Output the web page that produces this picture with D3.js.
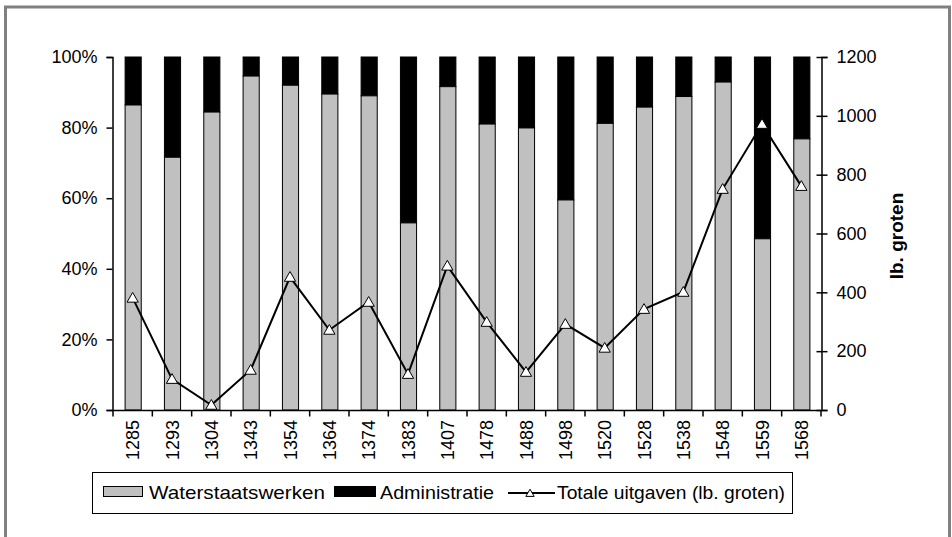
<!DOCTYPE html>
<html>
<head>
<meta charset="utf-8">
<script src="https://cdn.jsdelivr.net/npm/d3@7"></script>
<style>
  body { margin: 0; background: #fff; }
  text { font-family: "Liberation Sans", Arial, sans-serif; }
</style>
</head>
<body>
<script>
// data
let years = ['1285','1293','1304','1343','1354','1364','1374','1383','1407','1478','1488','1498','1520','1528','1538','1548','1559','1568'];
let waterstaat = [86.4,71.6,84.4,94.6,92.0,89.5,89.0,53.0,91.6,81.0,79.9,59.5,81.2,85.8,88.8,92.9,48.5,76.8];
let totaal = [381,105,17,136,452,272,367,122,490,299,129,292,211,343,401,751,972,761];
let pctTicks = [0,20,40,60,80,100];
let grotenTicks = [0,200,400,600,800,1000,1200];

let width = 952, height = 537;
let padding = { left: 113, right: 131, top: 57, bottom: 127 };

let svg = d3.select('body').append('svg')
    .attr('width', width)
    .attr('height', height);

// outer frame
svg.append('rect')
    .attr('x', 5.5).attr('y', 7)
    .attr('width', 944).attr('height', 560)
    .attr('fill', 'none')
    .attr('stroke', '#808080')
    .attr('stroke-width', 3);

let plotW = width - padding.left - padding.right;
let plotH = height - padding.top - padding.bottom;

let xScale = d3.scaleBand()
    .domain(years)
    .range([padding.left, padding.left + plotW])
    .paddingInner(0.59)
    .paddingOuter(0.295);

let xBand = d3.scaleBand().domain(years).range([padding.left, padding.left + plotW]);

let yPct = d3.scaleLinear().domain([0, 100]).range([padding.top + plotH, padding.top]);
let yGroten = d3.scaleLinear().domain([0, 1200]).range([padding.top + plotH, padding.top]);

// bars
let g = svg.append('g');
g.selectAll('.admin')
    .data(years)
    .enter()
    .append('rect')
    .attr('class', 'admin')
    .attr('x', d => xScale(d) + 0.5)
    .attr('y', yPct(100))
    .attr('width', xScale.bandwidth())
    .attr('height', (d, i) => yPct(waterstaat[i]) - yPct(100))
    .attr('fill', '#000')
    .attr('stroke', '#000');

g.selectAll('.water')
    .data(years)
    .enter()
    .append('rect')
    .attr('class', 'water')
    .attr('x', d => xScale(d) + 0.5)
    .attr('y', (d, i) => yPct(waterstaat[i]))
    .attr('width', xScale.bandwidth())
    .attr('height', (d, i) => yPct(0) - yPct(waterstaat[i]))
    .attr('fill', '#c0c0c0')
    .attr('stroke', '#000');

// axes
let leftAxis = d3.axisLeft(yPct).tickValues(pctTicks).tickSize(6).tickFormat(d => d + '%');
let la = svg.append('g')
    .attr('transform', 'translate(' + (padding.left - 0.5) + ',0)')
    .call(leftAxis);
la.select('.domain').attr('stroke', '#000').attr('stroke-width', 1.5);
la.selectAll('.tick line').attr('stroke-width', 1.5);
la.selectAll('text').attr('font-size', 18).attr('fill', '#000').attr('x', -15);

let rightAxis = d3.axisRight(yGroten).tickValues(grotenTicks).tickSize(6).tickFormat(d3.format('d'));
let ra = svg.append('g')
    .attr('transform', 'translate(' + (padding.left + plotW + 0.5) + ',0)')
    .call(rightAxis);
ra.select('.domain').attr('stroke-width', 1.5);
ra.selectAll('.tick line').attr('x1', -5).attr('stroke-width', 1.5);
ra.selectAll('text').attr('font-size', 18).attr('fill', '#000').attr('x', 15);

// x axis: line plus ticks at band boundaries
let xa = svg.append('g');
xa.append('line')
    .attr('x1', padding.left).attr('x2', padding.left + plotW)
    .attr('y1', yPct(0) + 0.5).attr('y2', yPct(0) + 0.5)
    .attr('stroke', '#000').attr('stroke-width', 1.5);
xa.selectAll('.xt')
    .data(years.concat(['end']))
    .enter()
    .append('line')
    .attr('x1', d => (d === 'end' ? padding.left + plotW : xBand(d)))
    .attr('x2', d => (d === 'end' ? padding.left + plotW : xBand(d)))
    .attr('y1', yPct(0))
    .attr('y2', yPct(0) + 6.5)
    .attr('stroke', '#000').attr('stroke-width', 1.5);
xa.selectAll('.xl')
    .data(years)
    .enter()
    .append('text')
    .attr('transform', d => 'translate(' + (xBand(d) + xBand.bandwidth() / 2 + 6.5) + ',' + (yPct(0) + 10) + ') rotate(-90)')
    .attr('text-anchor', 'end')
    .attr('font-size', 18)
    .text(d => d);

// right axis title
svg.append('text')
    .attr('transform', 'translate(903,236) rotate(-90)')
    .attr('text-anchor', 'middle')
    .attr('font-size', 19)
    .attr('font-weight', 'bold')
    .text('lb. groten');

// line
let line = d3.line()
    .x((d, i) => xBand(years[i]) + xBand.bandwidth() / 2)
    .y(d => yGroten(d));
svg.append('path')
    .datum(totaal)
    .attr('d', line)
    .attr('fill', 'none')
    .attr('stroke', '#000')
    .attr('stroke-width', 2);

let tri = d3.symbol().type(d3.symbolTriangle).size(55);
svg.selectAll('.pt')
    .data(totaal)
    .enter()
    .append('path')
    .attr('transform', (d, i) => 'translate(' + (xBand(years[i]) + xBand.bandwidth() / 2) + ',' + (yGroten(d) + 1) + ')')
    .attr('d', tri)
    .attr('fill', '#fff')
    .attr('stroke', '#000')
    .attr('stroke-width', 1);

// legend
let lg = svg.append('g');
lg.append('rect')
    .attr('x', 92.5).attr('y', 472.5)
    .attr('width', 700).attr('height', 41)
    .attr('fill', '#fff').attr('stroke', '#000').attr('stroke-width', 1);
lg.append('rect')
    .attr('x', 103.5).attr('y', 486.5).attr('width', 39).attr('height', 10)
    .attr('fill', '#c0c0c0').attr('stroke', '#000');
lg.append('text').attr('x', 149).attr('y', 499).attr('font-size', 19)
    .attr('textLength', 176).attr('lengthAdjust', 'spacingAndGlyphs')
    .text('Waterstaatswerken');
lg.append('rect')
    .attr('x', 334.5).attr('y', 486.5).attr('width', 41).attr('height', 10)
    .attr('fill', '#000').attr('stroke', '#000');
lg.append('text').attr('x', 380).attr('y', 499).attr('font-size', 19)
    .attr('textLength', 114).attr('lengthAdjust', 'spacingAndGlyphs')
    .text('Administratie');
lg.append('line')
    .attr('x1', 508).attr('x2', 555).attr('y1', 493).attr('y2', 493)
    .attr('stroke', '#000').attr('stroke-width', 2);
lg.append('path')
    .attr('transform', 'translate(530,494)')
    .attr('d', d3.symbol().type(d3.symbolTriangle).size(30))
    .attr('fill', '#fff').attr('stroke', '#000');
lg.append('text').attr('x', 557).attr('y', 499).attr('font-size', 19)
    .attr('textLength', 228).attr('lengthAdjust', 'spacingAndGlyphs')
    .text('Totale uitgaven (lb. groten)');
</script>
</body>
</html>
